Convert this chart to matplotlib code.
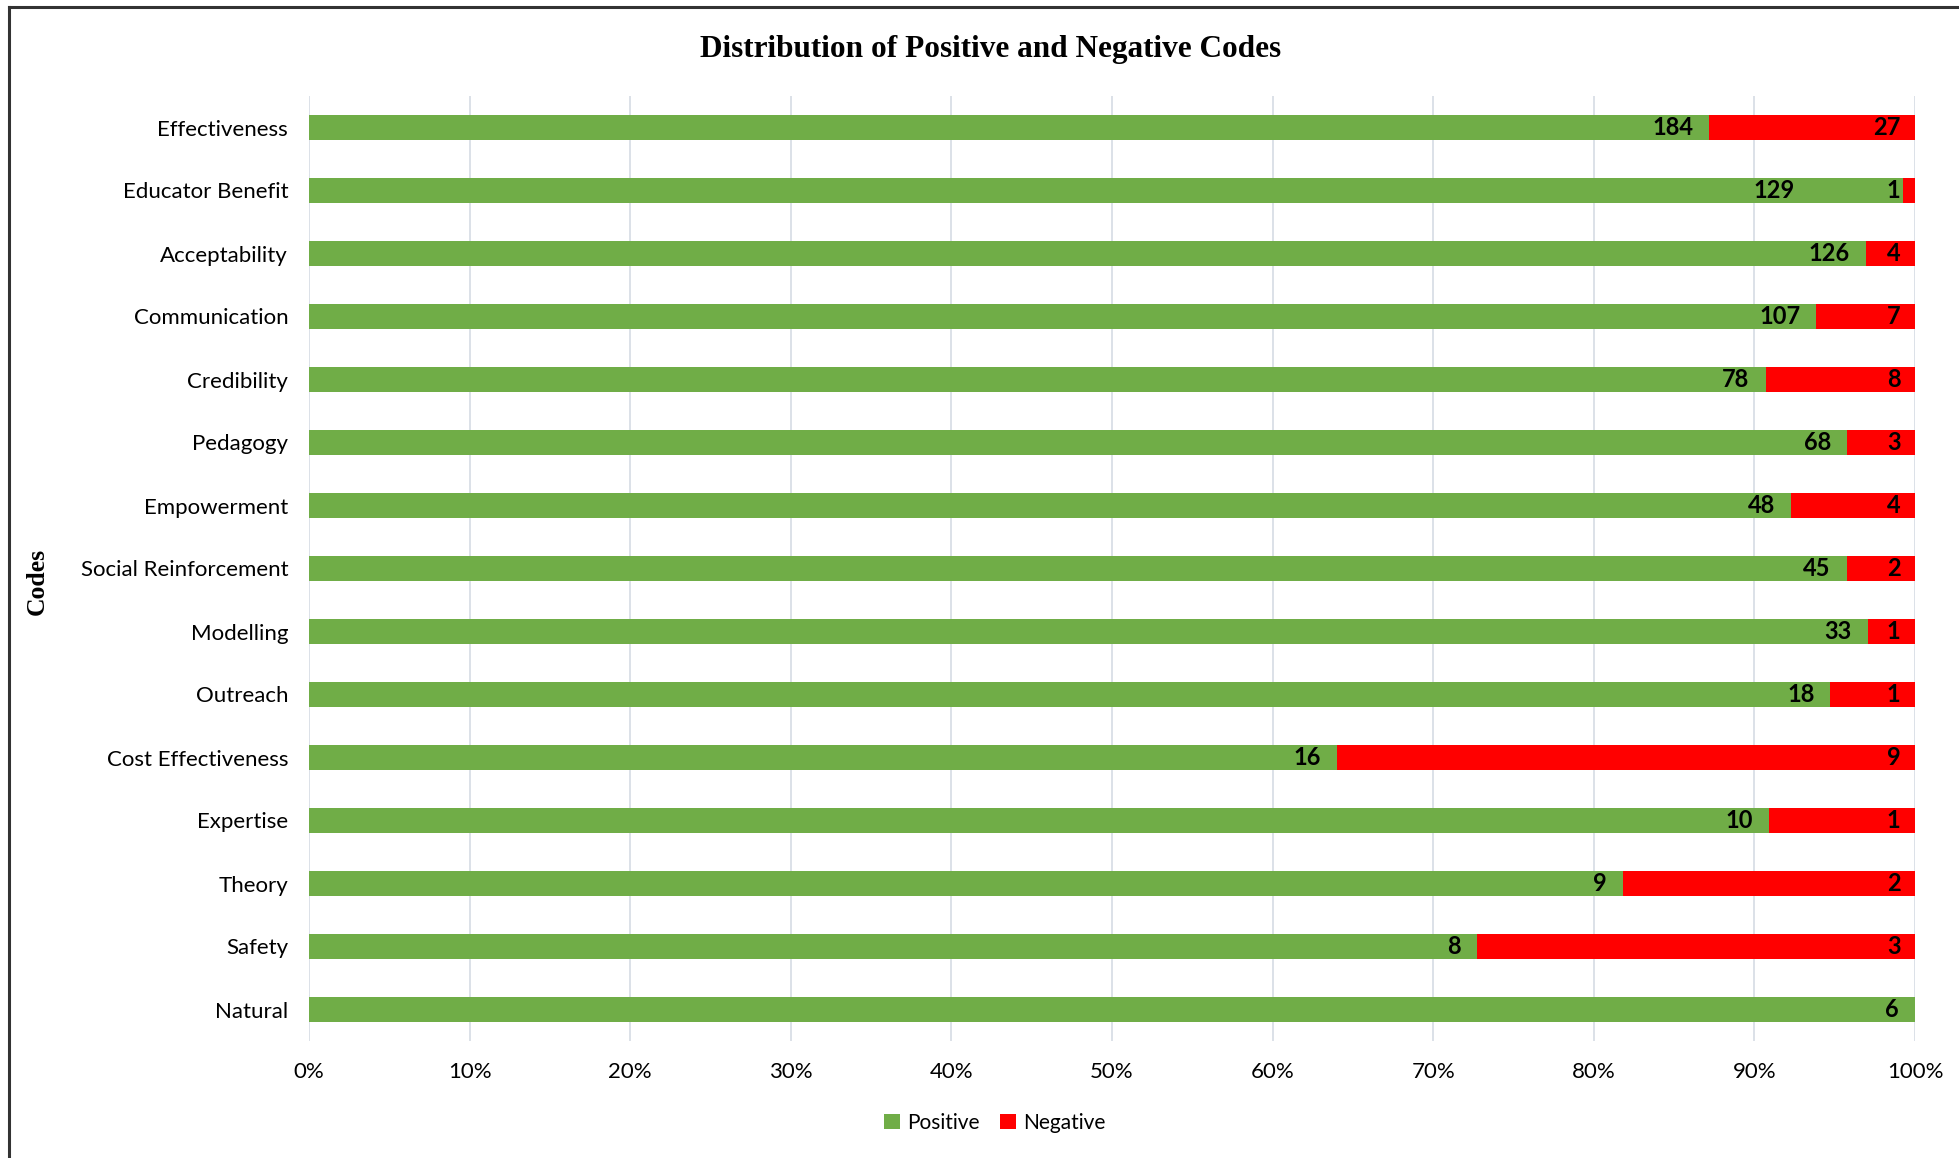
import numpy as np
import matplotlib.pyplot as plt
from matplotlib.lines import Line2D

codes = ["Effectiveness", "Educator Benefit", "Acceptability", "Communication",
         "Credibility", "Pedagogy", "Empowerment", "Social Reinforcement",
         "Modelling", "Outreach", "Cost Effectiveness", "Expertise", "Theory",
         "Safety", "Natural"]
positive = [184, 129, 126, 107, 78, 68, 48, 45, 33, 18, 16, 10, 9, 8, 6]
negative = [27, 1, 4, 7, 8, 3, 4, 2, 1, 1, 9, 1, 2, 3, 0]

plt.rcParams['font.family'] = ['Lato', 'DejaVu Sans']

pos = np.array(positive, dtype=float)
neg = np.array(negative, dtype=float)
total = pos + neg
pos_share = pos / total
neg_share = neg / total
y = np.arange(len(codes))

fig = plt.figure(figsize=(19.59, 11.58), dpi=100)
ax = fig.add_axes([309 / 1959, 1 - 1041 / 1158, (1915 - 309) / 1959, (1041 - 96) / 1158])

green = '#70AD47'
red = '#FF0000'
ax.barh(y, pos_share, height=0.4, color=green, label='Positive', zorder=3)
ax.barh(y, neg_share, left=pos_share, height=0.4, color=red, label='Negative', zorder=3)

# value labels at inside end of each segment
for i in range(len(codes)):
    xp = pos_share[i] - 0.01
    if 0 < neg_share[i] < 0.02:
        # very thin negative segment: keep the labels apart
        xp = 0.925
    ax.text(xp, y[i], str(positive[i]), ha='right', va='center',
            fontsize=17, fontweight='bold', zorder=4)
    if negative[i] > 0:
        ax.text(1 - 0.009, y[i], str(negative[i]), ha='right', va='center',
                fontsize=17, fontweight='bold', zorder=4)

ax.set_xlim(0, 1)
ax.set_ylim(len(codes) - 0.5, -0.5)
ax.set_xticks(np.arange(0, 1.01, 0.1))
ax.set_xticklabels([f"{int(round(v * 100))}%" for v in np.arange(0, 1.01, 0.1)])
ax.set_yticks(y)
ax.set_yticklabels(codes)
ax.tick_params(axis='both', length=0, labelsize=16)
ax.tick_params(axis='x', pad=15)
ax.tick_params(axis='y', pad=15)
ax.grid(axis='x', color='#D9DEE6', linewidth=1.3, zorder=0)
for s in ax.spines.values():
    s.set_visible(False)

fig.text(991 / 1959, 1 - 50 / 1158, "Distribution of Positive and Negative Codes",
         ha='center', va='center', fontsize=22.5, fontweight='bold',
         family=['Liberation Serif', 'DejaVu Serif'])
fig.text(37 / 1959, 1 - 581 / 1158, "Codes", ha='center', va='center', rotation=90,
         fontsize=18.5, fontweight='bold', family=['Liberation Serif', 'DejaVu Serif'])

fig.legend(loc='center', bbox_to_anchor=(995 / 1959, 1 - 1123 / 1158), ncol=2,
           frameon=False, fontsize=15, handlelength=0.75, handleheight=0.75,
           handletextpad=0.35, columnspacing=1.0)

# outer border (left and top only, as in the reference)
fig.add_artist(Line2D([9 / 1959, 9 / 1959], [0, 1 - 7 / 1158], color='#333333', linewidth=2.2))
fig.add_artist(Line2D([9 / 1959, 1], [1 - 7 / 1158, 1 - 7 / 1158], color='#333333', linewidth=2.2))

fig.savefig('out.png', dpi=100, facecolor='white')
